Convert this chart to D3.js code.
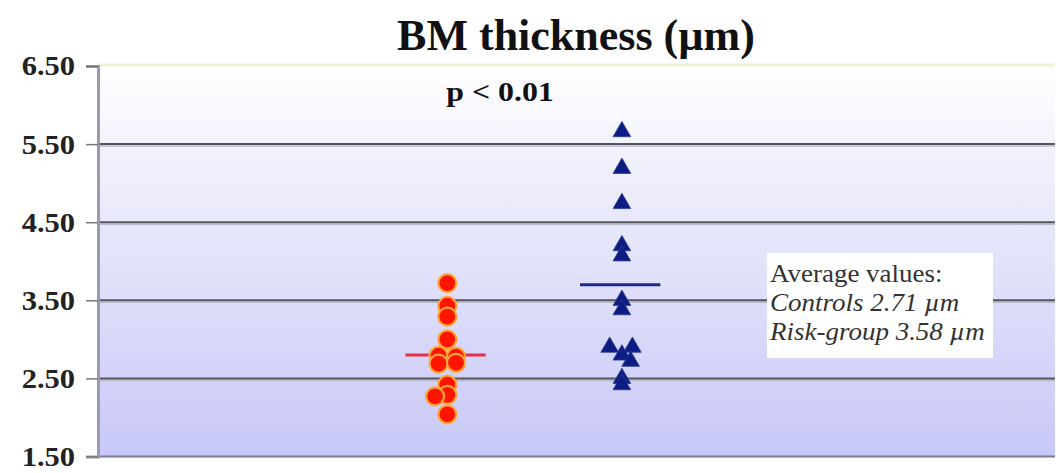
<!DOCTYPE html>
<html>
<head>
<meta charset="utf-8">
<script src="https://cdn.jsdelivr.net/npm/d3@7"></script>
<style>
  body { margin: 0; background: #fff; }
  svg { display: block; font-family: "Liberation Serif", "DejaVu Serif", serif; }
</style>
</head>
<body>
<svg id="chart"></svg>
<script>
var width = 1061, height = 473;

// data
var groups = ["Controls", "Risk-group"];
var groupPos = [2, 3];
var controls = [3.72, 3.43, 3.29, 3.00, 2.79, 2.78, 2.69, 2.70, 2.42, 2.29, 2.27, 2.04];
var controlsJitter = [0, 0, 0, 0, -0.05, 0.05, -0.05, 0.05, 0, 0, -0.07, 0];
var risk = [5.66, 5.19, 4.74, 4.20, 4.07, 3.50, 3.38, 2.90, 2.90, 2.80, 2.72, 2.50, 2.42];
var riskJitter = [0, 0, 0, 0, 0, 0, 0, -0.07, 0.06, 0, 0.05, 0, 0];
var meanLines = [2.80, 3.70];
var yTicks = [1.5, 2.5, 3.5, 4.5, 5.5, 6.5];
var notes = ["Average values:", "Controls 2.71 \u00b5m", "Risk-group 3.58 \u00b5m"];

var margin = {top: 66, right: 6, bottom: 16, left: 98};

const svg = d3.select("svg#chart")
  .attr("width", width)
  .attr("height", height);

var x = d3.scaleLinear()
  .domain([0, 5.48])
  .range([margin.left, width - margin.right]);

var y = d3.scaleLinear()
  .domain([1.5, 6.5])
  .range([height - margin.bottom - 0.5, margin.top]);

// background gradient
var defs = svg.append("defs");
var grad = defs.append("linearGradient")
  .attr("id", "bg").attr("x1", 0).attr("y1", 0).attr("x2", 0).attr("y2", 1);
grad.append("stop").attr("offset", "0%").attr("stop-color", "#ffffff");
grad.append("stop").attr("offset", "25%").attr("stop-color", "#f0f0fc");
grad.append("stop").attr("offset", "100%").attr("stop-color", "#c8c8f8");

svg.append("rect")
  .attr("x", x(0)).attr("y", y(6.5))
  .attr("width", x.range()[1] - x(0))
  .attr("height", y(1.5) - y(6.5))
  .attr("fill", "url(#bg)");

// top border (pale)
svg.append("line")
  .attr("x1", x(0)).attr("x2", x.range()[1])
  .attr("y1", y(6.5) - 1).attr("y2", y(6.5) - 1)
  .style("stroke", "#eef0d8").style("stroke-width", 3);

// gridlines
const grid = svg.append("g").attr("id", "grid");
grid.selectAll(".shade")
  .data(yTicks.filter(d => d > 1.5 && d < 6.5))
  .enter().append("line")
  .attr("x1", x(0)).attr("x2", x.range()[1])
  .attr("y1", d => y(d) + 2).attr("y2", d => y(d) + 2)
  .style("stroke", "#b8b8c8").style("stroke-width", 1.5);
grid.selectAll(".grid")
  .data(yTicks.filter(d => d > 1.5 && d < 6.5))
  .enter().append("line")
  .attr("x1", x(0)).attr("x2", x.range()[1])
  .attr("y1", d => y(d)).attr("y2", d => y(d))
  .style("stroke", "#555560").style("stroke-width", 2);

// bottom line
svg.append("line")
  .attr("x1", x(0)).attr("x2", x.range()[1])
  .attr("y1", y(1.5)).attr("y2", y(1.5))
  .style("stroke", "#7a7a90").style("stroke-width", 2);

// y axis
var labelStretch = 1.09;
const yAxis = svg.append("g")
  .attr("transform", "translate(" + x(0) + ",0)")
  .call(d3.axisLeft(y).tickValues(yTicks).tickFormat(d3.format(".2f")).tickSize(12).tickPadding(11));
yAxis.select(".domain").style("stroke", "#9a9ab0").style("stroke-width", 3);
yAxis.selectAll(".tick line").style("stroke", "#777").style("stroke-width", 1.5);
yAxis.selectAll(".tick text")
  .attr("x", -23 / labelStretch)
  .attr("transform", "scale(" + labelStretch + ",1)")
  .style("font-family", "Liberation Serif, serif")
  .style("font-size", "28px").style("font-weight", "bold").style("fill", "#222");

// title
svg.append("text")
  .attr("x", 576).attr("y", 50)
  .attr("text-anchor", "middle")
  .style("font-size", "44px").style("font-weight", "bold").style("fill", "#111")
  .text("BM thickness (\u00b5m)");

svg.append("text")
  .attr("transform", "translate(500,101) scale(1.18,1)")
  .attr("text-anchor", "middle")
  .style("font-size", "27px").style("font-weight", "bold").style("fill", "#111")
  .text("p < 0.01");

// mean lines
var meanColors = ["#e8304a", "#1a2a80"];
svg.selectAll(".mean")
  .data(meanLines)
  .enter().append("line")
  .attr("class", "mean")
  .attr("x1", (d, i) => x(groupPos[i] - 0.24))
  .attr("x2", (d, i) => x(groupPos[i] + 0.22))
  .attr("y1", d => y(d)).attr("y2", d => y(d))
  .style("stroke", (d, i) => meanColors[i])
  .style("stroke-width", 3);

// controls: circles
svg.append("g").attr("id", "dots")
  .selectAll("circle")
  .data(controls)
  .enter().append("circle")
  .attr("cx", (d, i) => x(groupPos[0] + controlsJitter[i]))
  .attr("cy", d => y(d))
  .attr("r", 9)
  .style("fill", "#ff1500")
  .style("stroke", "#ffa63a")
  .style("stroke-width", 2.2);

// risk-group: triangles
var tri = d3.symbol().type(d3.symbolTriangle).size(135);
svg.append("g").attr("id", "tris")
  .selectAll("path")
  .data(risk)
  .enter().append("path")
  .attr("d", tri)
  .attr("transform", (d, i) => "translate(" + x(groupPos[1] + riskJitter[i]) + "," + y(d) + ")")
  .style("fill", "#0c1c82")
  .style("stroke", "#2a3a90")
  .style("stroke-width", 0.8);

// averages box
const note = svg.append("g").attr("id", "note");
note.append("rect")
  .attr("x", 767).attr("y", 253)
  .attr("width", 226).attr("height", 105)
  .style("fill", "#ffffff");
note.selectAll("text")
  .data(notes)
  .enter().append("text")
  .attr("transform", (d, i) => "translate(770," + (282 + i * 29) + ") scale(1.08,1)")
  .style("font-size", "25px")
  .style("font-style", (d, i) => i === 0 ? "normal" : "italic")
  .style("fill", "#333")
  .text(d => d);
</script>
</body>
</html>
